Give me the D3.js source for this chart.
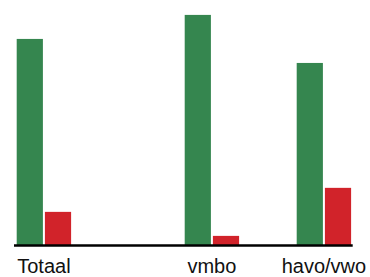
<!DOCTYPE html>
<html><head><meta charset="utf-8">
<script src="https://cdn.jsdelivr.net/npm/d3@7"></script>
<style>html,body{margin:0;padding:0;background:#fff;}svg{display:block;}</style>
</head><body>
<svg id="chart" width="370" height="277"></svg>
<script>
// Category slots (placeholders starting with "_" are empty slots on the axis)
const slots = ["Totaal", "_1", "_2", "vmbo", "_4", "havo/vwo"];
const categories = ["Totaal", "vmbo", "havo/vwo"];
const seriesNames = ["ja", "nee"];
const greenValues = [86, 96, 76];
const redValues = [14, 4, 24];
const colors = ["#35864f", "#d1232a"];

const svg = d3.select("#chart");
const baseY = 245.5;
const x = d3.scaleBand().domain(slots).range([16.7, 352.7]).paddingInner(0).paddingOuter(0);
const xs = d3.scaleBand().domain(seriesNames).range([0, 54.4]).paddingInner(0.071);
const y = d3.scaleLinear().domain([0, 100]).range([baseY, 5.3]);

const data = categories.map((c, i) => ({cat: c, vals: [greenValues[i], redValues[i]]}));

const g = svg.selectAll("g.grp").data(data).join("g")
  .attr("class", "grp")
  .attr("transform", d => `translate(${x(d.cat)},0)`);
g.selectAll("rect").data(d => d.vals.map((v, j) => ({s: seriesNames[j], v, j}))).join("rect")
  .attr("x", d => xs(d.s))
  .attr("width", xs.bandwidth())
  .attr("y", d => y(d.v))
  .attr("height", d => baseY - y(d.v))
  .attr("fill", d => colors[d.j]);

// Axis
const axis = d3.axisBottom(x).tickSize(0).tickFormat(d => d.startsWith("_") ? "" : d);
const ax = svg.append("g").attr("transform", `translate(0,${baseY})`).call(axis);
ax.select(".domain").remove();
ax.selectAll(".tick").attr("transform", d => `translate(${x(d) + 27.2},0)`);
ax.selectAll(".tick text")
  .attr("y", 27).attr("dy", null)
  .attr("fill", "#111")
  .style("font-family", "Arial, 'Liberation Sans', sans-serif")
  .style("font-size", "20px");
svg.append("line")
  .attr("x1", 14).attr("x2", x.range()[1])
  .attr("y1", baseY).attr("y2", baseY)
  .attr("stroke", "#000").attr("stroke-width", 2.5);
</script>
</body></html>
